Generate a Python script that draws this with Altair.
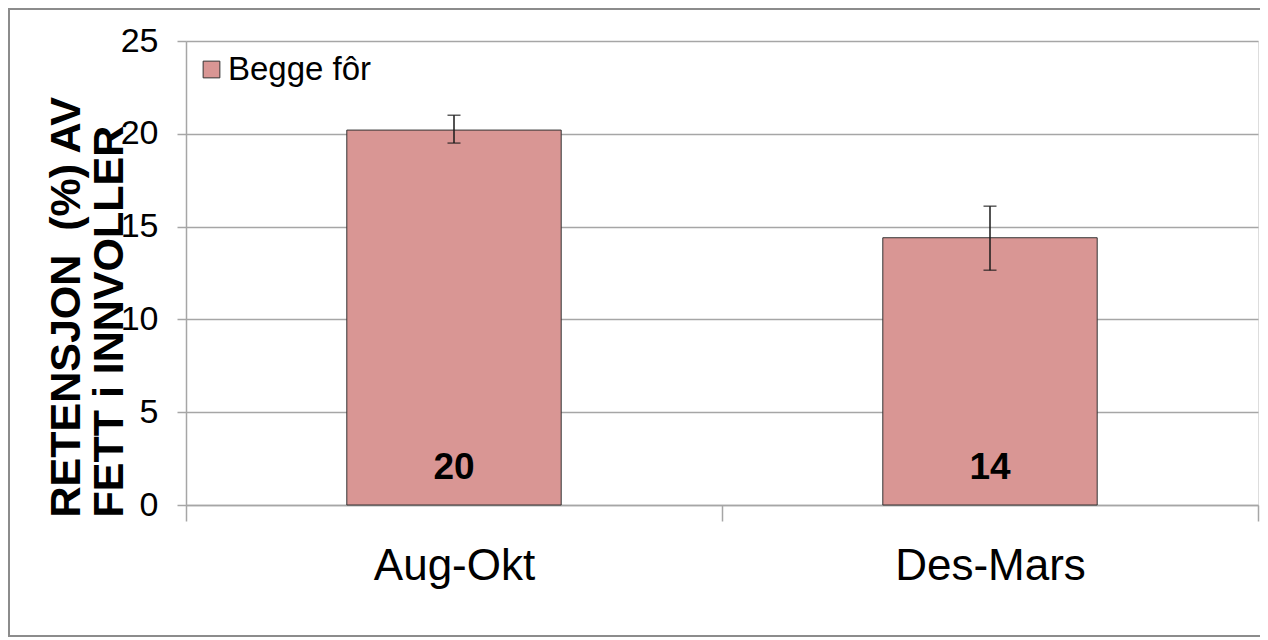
import altair as alt
import pandas as pd

periods = ["Aug-Okt", "Des-Mars"]
retention = [20.2, 14.4]
err_low = [19.5, 12.65]
err_high = [21.0, 16.1]
series = ["Begge fôr", "Begge fôr"]
y_ticks = [0, 5, 10, 15, 20, 25]
y_title = ["RETENSJON\u00a0 (%) AV", "FETT i INNVOLLER"]

df = pd.DataFrame({
    "period": periods,
    "retention": retention,
    "lo": err_low,
    "hi": err_high,
    "series": series,
})

FONT = "Liberation Sans Narrow, Arial Narrow, Liberation Sans, Arial"
BOLD = "Liberation Sans, Arial"
GRID = "#A6A6A6"

x_enc = alt.X(
    "period:N",
    sort=periods,
    scale=alt.Scale(paddingInner=0, paddingOuter=0),
    axis=alt.Axis(
        title=None, labelAngle=0, tickBand="extent", tickSize=16,
        labelFont=FONT, labelFontSize=44, labelColor="black", labelLimit=0,
        labelPadding=23, domainColor=GRID, tickColor=GRID,
        domainWidth=1.5, tickWidth=1.5, grid=False,
    ),
)

bars = alt.Chart(df).mark_bar(
    width=alt.RelativeBandSize(0.4), stroke="#333333", strokeWidth=1
).encode(
    x=x_enc,
    y=alt.Y(
        "retention:Q",
        scale=alt.Scale(domain=[0, 25], nice=False),
        axis=alt.Axis(
            values=y_ticks, tickSize=9, grid=True, gridColor=GRID, gridWidth=1.5,
            domainColor=GRID, tickColor=GRID, domainWidth=1.5, tickWidth=1.5,
            labelFont=FONT, labelFontSize=34, labelColor="black", labelPadding=19,
            title=y_title, titleFont=BOLD, titleFontSize=43, titleFontWeight="bold",
            titleColor="black", titleAngle=270, titleAlign="left", titleBaseline="top",
            titleX=-141, titleY=476, titleLineHeight=43, titleLimit=0,
        ),
    ),
    color=alt.Color(
        "series:N",
        scale=alt.Scale(range=["#D99694"]),
        legend=alt.Legend(
            title=None, orient="none", legendX=9, legendY=12,
            symbolType="square", symbolSize=280, symbolStrokeColor="#333333",
            symbolStrokeWidth=1, labelFont=FONT, labelFontSize=33,
            labelColor="black", labelOffset=0, labelLimit=0,
        ),
    ),
)

rule = alt.Chart(df).mark_rule(color="#1a1a1a", strokeWidth=1.5).encode(
    x=alt.X("period:N", sort=periods), y="lo:Q", y2="hi:Q"
)
cap_lo = alt.Chart(df).mark_tick(color="#1a1a1a", size=13, thickness=1.5).encode(
    x=alt.X("period:N", sort=periods), y="lo:Q"
)
cap_hi = alt.Chart(df).mark_tick(color="#1a1a1a", size=13, thickness=1.5).encode(
    x=alt.X("period:N", sort=periods), y="hi:Q"
)
labels = alt.Chart(df).mark_text(
    font=FONT, fontSize=37, fontWeight="bold", color="black",
    baseline="alphabetic", dy=-26,
).encode(
    x=alt.X("period:N", sort=periods),
    y=alt.datum(0),
    text=alt.Text("retention:Q", format=".0f"),
)

frame = alt.Chart(df).mark_rect(
    fill=None, stroke="#8C8C8C", strokeWidth=2
).encode(
    x=alt.value(-177), x2=alt.value(1300), y=alt.value(-32), y2=alt.value(595)
)

chart = alt.layer(frame, bars, rule, cap_lo, cap_hi, labels).properties(
    width=1072, height=464,
    autosize=alt.AutoSizeParams(type="none"),
    padding={"left": 178, "top": 33, "right": 2, "bottom": 133},
).configure_view(stroke=None).configure(background="white")

chart.save("out.html", embed_options={"renderer": "svg", "actions": False})
